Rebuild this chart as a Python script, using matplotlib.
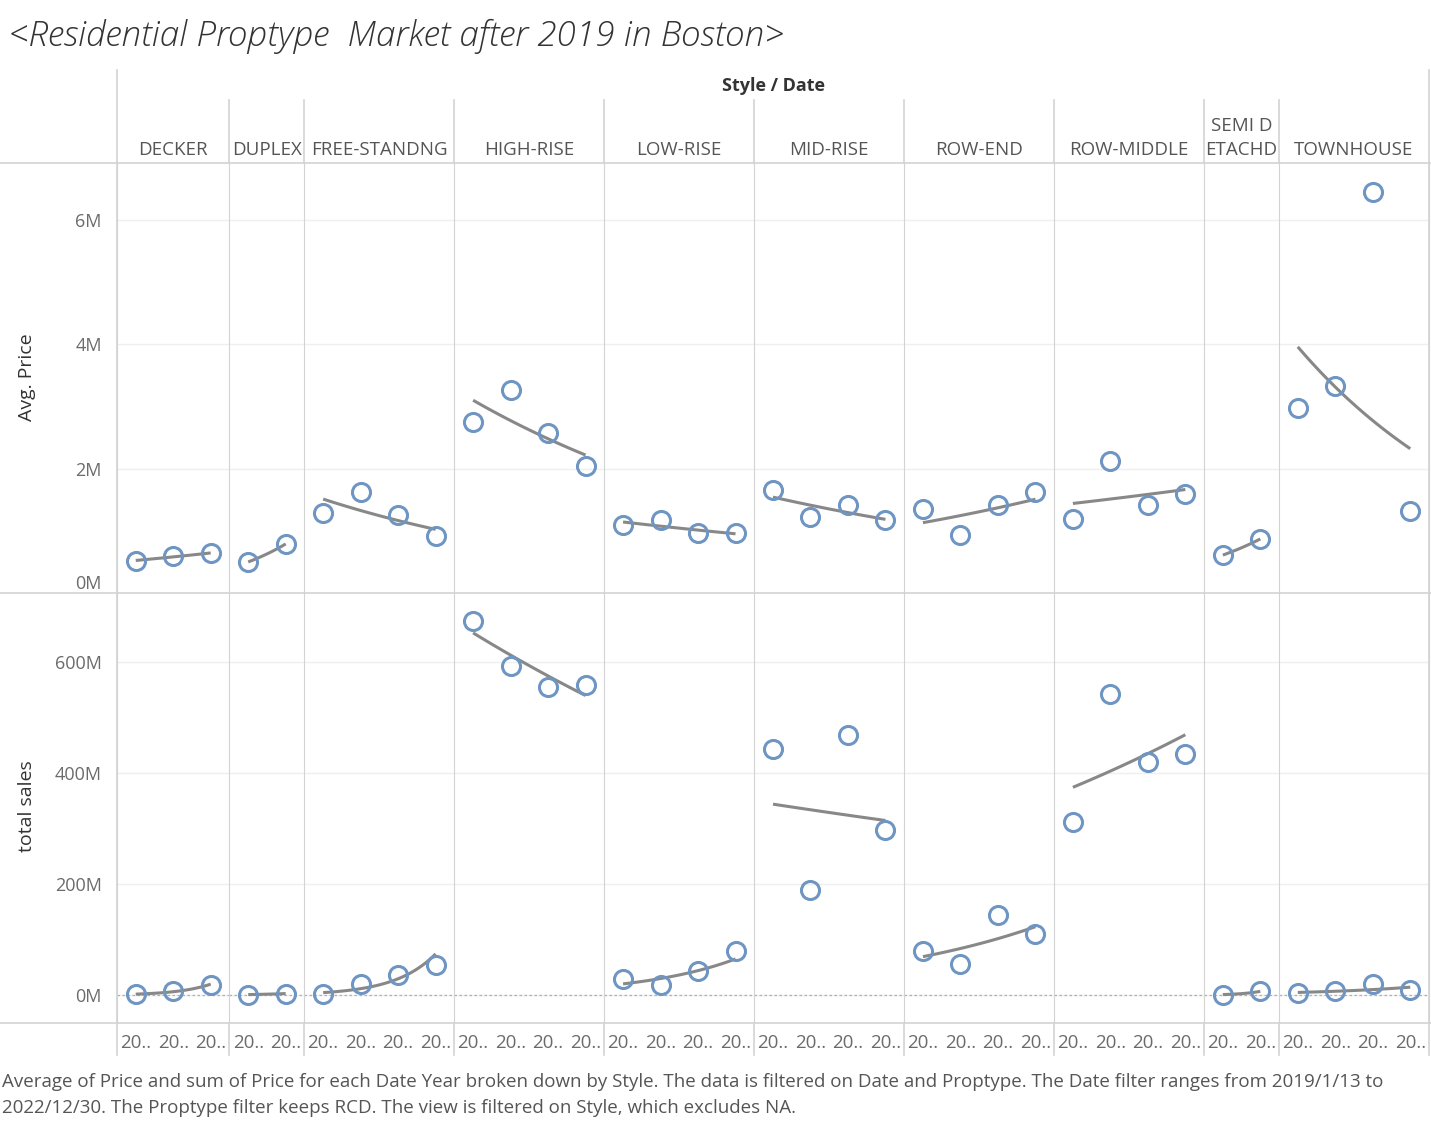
import matplotlib as mpl
mpl.use('Agg')
import matplotlib.pyplot as plt
from matplotlib.lines import Line2D
import numpy as np

plt.rcParams['font.family'] = ['Open Sans', 'DejaVu Sans']

# styles and the years each one has data for
styles = ['DECKER', 'DUPLEX', 'FREE-STANDNG', 'HIGH-RISE', 'LOW-RISE',
          'MID-RISE', 'ROW-END', 'ROW-MIDDLE', 'SEMI D\nETACHD', 'TOWNHOUSE']
n_years = [3, 2, 4, 4, 4, 4, 4, 4, 2, 4]

# average price per year (millions)
avg_price = [
    [0.52, 0.59, 0.64],
    [0.50, 0.79],
    [1.29, 1.62, 1.26, 0.91],
    [2.75, 3.26, 2.58, 2.05],
    [1.10, 1.17, 0.96, 0.96],
    [1.65, 1.22, 1.42, 1.17],
    [1.35, 0.94, 1.42, 1.62],
    [1.19, 2.13, 1.42, 1.60],
    [0.61, 0.87],
    [2.98, 3.33, 6.46, 1.32],
]
# total sales per year (millions)
total_sales = [
    [1.8, 7.8, 18],
    [1.2, 3.0],
    [3, 21, 36, 54],
    [674, 593, 555, 558],
    [29, 18, 43, 79],
    [443, 190, 468, 297],
    [80, 57, 145, 111],
    [311, 542, 420, 435],
    [1.2, 7],
    [4, 7, 21, 9],
]

W, H = 1431, 1122
fig = plt.figure(figsize=(W / 100, H / 100), dpi=100)

def fx(px):
    return px / W

def fy(py):
    return 1 - py / H

left, right = 117, 1429
top, mid, bottom = 163, 593, 1023
gs = fig.add_gridspec(2, len(styles), width_ratios=n_years,
                      left=fx(left), right=fx(right), top=fy(top), bottom=fy(bottom),
                      wspace=0, hspace=0)

sep_col = '#d3d3d3'
grid_col = '#efefef'
mark_col = '#6f96c3'
trend_col = '#888888'
tick_col = '#6b6b6b'


def trend(ax, vals):
    # exponential trend line, as Tableau draws it
    x = np.arange(len(vals))
    b, a = np.polyfit(x, np.log(vals), 1)
    xs = np.linspace(0, len(vals) - 1, 60)
    ax.plot(xs, np.exp(a + b * xs), color=trend_col, lw=2.2, zorder=2,
            solid_capstyle='butt')


rows = [(avg_price, (0, 6.92), [0, 2, 4, 6]),
        (total_sales, (-50, 724), [0, 200, 400, 600])]

for r, (data, ylim, ticks) in enumerate(rows):
    for c, vals in enumerate(data):
        ax = fig.add_subplot(gs[r, c])
        n = n_years[c]
        ax.set_xlim(-0.5, n - 0.5)
        ax.set_ylim(*ylim)
        for t in ticks:
            if t > ylim[0]:
                ax.axhline(t, color=grid_col, lw=1, zorder=0)
        if r == 1:
            ax.axhline(0, color='#b0b0b0', lw=0.9, ls=(0, (2, 2)), zorder=1)
        trend(ax, vals)
        ax.plot(np.arange(n), vals, ls='none', marker='o', ms=13, mfc='none',
                mec=mark_col, mew=2.2, zorder=3)
        for s in ax.spines.values():
            s.set_visible(False)
        ax.spines['left'].set_visible(True)
        ax.spines['left'].set_color(sep_col)
        if c == len(styles) - 1:
            ax.spines['right'].set_visible(True)
            ax.spines['right'].set_color(sep_col)
        ax.tick_params(length=0)
        ax.set_yticks(ticks)
        if c == 0:
            ax.set_yticklabels([f'{t}M' for t in ticks], color=tick_col, fontsize=13)
            ax.tick_params(axis='y', pad=11)
            if r == 0:
                ax.get_yticklabels()[0].set_va('bottom')
        else:
            ax.set_yticklabels([])
        ax.set_xticks(np.arange(n))
        if r == 1:
            ax.set_xticklabels(['20..'] * n, color=tick_col, fontsize=13.5)
            ax.tick_params(axis='x', pad=8)
        else:
            ax.set_xticklabels([])

# frame lines around panes and headers
for py in (top, mid, bottom):
    fig.add_artist(Line2D([0, 1], [fy(py), fy(py)], color=sep_col, lw=1.2))
for px in (left, right):
    fig.add_artist(Line2D([fx(px), fx(px)], [fy(70), fy(1055)], color=sep_col, lw=1.2))
slot = (right - left) / sum(n_years)
edges = left + slot * np.cumsum([0] + n_years)
for px in edges[1:-1]:
    fig.add_artist(Line2D([fx(px), fx(px)], [fy(100), fy(top)], color=sep_col, lw=1.2))
    fig.add_artist(Line2D([fx(px), fx(px)], [fy(bottom), fy(1055)], color=sep_col, lw=1.2))

# column headers
for i, name in enumerate(styles):
    cx = (edges[i] + edges[i + 1]) / 2
    fig.text(fx(cx), fy(159), name, ha='center', va='bottom', fontsize=13.5,
             color='#555555', linespacing=1.45)
fig.text(fx(773), fy(86), 'Style / Date', ha='center', va='center', fontsize=13,
         fontweight='bold', color='#333333')

# axis titles
fig.text(fx(27), fy(377), 'Avg. Price', rotation=90, ha='center', va='center',
         fontsize=14, color='#333333')
fig.text(fx(27), fy(806), 'total sales', rotation=90, ha='center', va='center',
         fontsize=14, color='#333333')

# title and caption
fig.text(fx(9), fy(36), '<Residential Proptype  Market after 2019 in Boston>',
         ha='left', va='center', fontsize=25.3, style='italic', fontweight='light',
         color='#333333')
fig.text(fx(2), fy(1082),
         'Average of Price and sum of Price for each Date Year broken down by Style. '
         'The data is filtered on Date and Proptype. The Date filter ranges from 2019/1/13 to',
         ha='left', va='center', fontsize=13.5, color='#555555')
fig.text(fx(2), fy(1108),
         '2022/12/30. The Proptype filter keeps RCD. The view is filtered on Style, which excludes NA.',
         ha='left', va='center', fontsize=13.5, color='#555555')

plt.savefig('out.png', dpi=100)
